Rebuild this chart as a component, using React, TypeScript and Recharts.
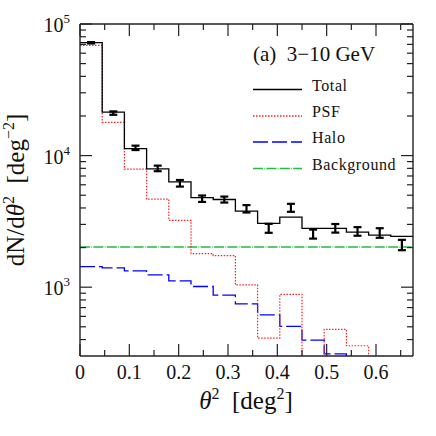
import React from "react"
import {
  ComposedChart,
  Line,
  Scatter,
  ErrorBar,
  XAxis,
  YAxis,
  ReferenceLine,
} from "recharts"

// bin edges in theta^2 (deg^2)
const binEdges = [
  0, 0.045, 0.09, 0.135, 0.18, 0.225, 0.27, 0.315, 0.36, 0.405, 0.45, 0.495,
  0.54, 0.585, 0.63, 0.675,
]

// model components per bin (last values below 300 run off the plot)
const totalModel = [
  72200, 21400, 11300, 7930, 6320, 4790, 4640, 3780, 3050, 3410, 2800, 2800,
  2620, 2490, 2430,
]
const psfModel = [
  68900, 17900, 7900, 4670, 3220, 1800, 1740, 1040, 410, 881, 150, 478, 359,
  150, 150,
]
const haloModel = [
  1435, 1400, 1330, 1240, 1117, 1012, 869, 748, 617, 504, 396, 311, 240, 190,
  150,
]
const background = 2020

// measured points with errors
const measured = [
  72000, 21050, 11460, 8000, 6170, 4710, 4640, 3950, 2810, 4020, 2540, 2810,
  2660, 2590, 2100,
]
const measuredErr = [
  880, 624, 440, 390, 355, 263, 243, 255, 220, 280, 200, 211, 200, 217, 190,
]

const xTicks = [
  0, 0.05, 0.1, 0.15, 0.2, 0.25, 0.3, 0.35, 0.4, 0.45, 0.5, 0.55, 0.6, 0.65,
]
const yMajor = [1000, 10000, 100000]
const yMinor = [
  400, 500, 600, 700, 800, 900, 2000, 3000, 4000, 5000, 6000, 7000, 8000, 9000,
  20000, 30000, 40000, 50000, 60000, 70000, 80000, 90000,
]
const yTicks = [...yMinor, ...yMajor].sort((a, b) => a - b)

const legendItems = [
  { label: "Total", color: "#000", dash: undefined },
  { label: "PSF", color: "#ff2020", dash: "1.5 1.5" },
  { label: "Halo", color: "#0000ff", dash: "15 4" },
  { label: "Background", color: "#22bb44", dash: "10 1.3 0.8 1.3" },
]

const histData = binEdges.map((x, i) => {
  const j = Math.min(i, totalModel.length - 1)
  return { x, total: totalModel[j], psf: psfModel[j], halo: haloModel[j] }
})

const pointData = measured.map((y, i) => ({
  x: (binEdges[i] + binEdges[i + 1]) / 2,
  y,
  err: measuredErr[i],
}))

const FONT = "'Liberation Serif', 'DejaVu Serif', serif"
const AXIS = "#222"

const isMajorX = (v: number) => Math.abs(v * 10 - Math.round(v * 10)) < 1e-6

function BottomTick(props: any) {
  const { x, y, payload } = props
  const major = isMajorX(payload.value)
  return (
    <g>
      <line x1={x} x2={x} y1={y} y2={y - (major ? 12 : 6)} stroke={AXIS} strokeWidth={1.2} />
      {major && (
        <text x={x} y={y + 23} textAnchor="middle" fontFamily={FONT} fontSize={20} fill="#111">
          {payload.value === 0 ? "0" : payload.value.toFixed(1)}
        </text>
      )}
    </g>
  )
}

function TopTick(props: any) {
  const { x, y, payload } = props
  const major = isMajorX(payload.value)
  return <line x1={x} x2={x} y1={y} y2={y + (major ? 12 : 6)} stroke={AXIS} strokeWidth={1.2} />
}

function LeftTick(props: any) {
  const { x, y, payload } = props
  const major = yMajor.includes(payload.value)
  return (
    <g>
      <line x1={x} x2={x + (major ? 12 : 6)} y1={y} y2={y} stroke={AXIS} strokeWidth={1.2} />
      {major && (
        <text x={x - 10} y={y + 8} textAnchor="end" fontFamily={FONT} fontSize={20} fill="#111">
          10
          <tspan dy={-9} fontSize={13}>
            {Math.round(Math.log10(payload.value))}
          </tspan>
        </text>
      )}
    </g>
  )
}

function RightTick(props: any) {
  const { x, y, payload } = props
  const major = yMajor.includes(payload.value)
  return <line x1={x} x2={x - (major ? 12 : 6)} y1={y} y2={y} stroke={AXIS} strokeWidth={1.2} />
}

function Overlay() {
  return (
    <svg
      width={436}
      height={436}
      style={{ position: "absolute", left: 0, top: 0, pointerEvents: "none" }}
    >
      <text x={253} y={61} fontFamily={FONT} fontSize={21} fill="#111" style={{ whiteSpace: "pre" }}>
        (a)  3−10 GeV
      </text>
      {legendItems.map((it, i) => {
        const ly = [89.5, 116, 142, 168.5][i]
        return (
          <g key={it.label}>
            <line x1={253} x2={302} y1={ly} y2={ly} stroke={it.color} strokeWidth={1.3} strokeDasharray={it.dash} />
            <text x={312} y={ly + 1} fontFamily={FONT} fontSize={16} fill="#111" letterSpacing={0.6}>
              {it.label}
            </text>
          </g>
        )
      })}
      <text x={246} y={409} textAnchor="middle" fontFamily={FONT} fontSize={25} fill="#111" style={{ whiteSpace: "pre" }}>
        <tspan fontStyle="italic">θ</tspan>
        <tspan dy={-10} fontSize={16}>2</tspan>
        <tspan dy={10}>  [deg</tspan>
        <tspan dy={-10} fontSize={16}>2</tspan>
        <tspan dy={10}>]</tspan>
      </text>
      <text
        x={0}
        y={0}
        transform="translate(24 190) rotate(-90)"
        textAnchor="middle"
        fontFamily={FONT}
        fontSize={25}
        fill="#111"
        style={{ whiteSpace: "pre" }}
      >
        dN/d
        <tspan fontStyle="italic">θ</tspan>
        <tspan dy={-10} fontSize={16}>2</tspan>
        <tspan dy={10}>  [deg</tspan>
        <tspan dy={-10} fontSize={16}>−2</tspan>
        <tspan dy={10}>]</tspan>
      </text>
    </svg>
  )
}

export default function App() {
  return (
    <div style={{ position: "absolute", left: 0, top: 0, width: 436, height: 436, background: "#fff" }}>
      <ComposedChart width={436} height={436} data={histData} margin={{ top: 0, right: 0, bottom: 0, left: 0 }}>
        <XAxis
          xAxisId="bottom"
          dataKey="x"
          type="number"
          domain={[0, 0.675]}
          ticks={xTicks}
          interval={0}
          height={80}
          tickSize={0}
          tickMargin={0}
          tickLine={false}
          tick={(p: any) => <BottomTick {...p} />}
          axisLine={{ stroke: AXIS, strokeWidth: 1.4 }}
          allowDataOverflow
        />
        <XAxis
          xAxisId="top"
          orientation="top"
          dataKey="x"
          type="number"
          domain={[0, 0.675]}
          ticks={xTicks}
          interval={0}
          height={24}
          tickSize={0}
          tickMargin={0}
          tickLine={false}
          tick={(p: any) => <TopTick {...p} />}
          axisLine={{ stroke: AXIS, strokeWidth: 1.4 }}
          allowDataOverflow
        />
        <YAxis
          yAxisId="left"
          type="number"
          scale="log"
          domain={[300, 100000]}
          ticks={yTicks}
          interval={0}
          width={80}
          tickSize={0}
          tickMargin={0}
          tickLine={false}
          tick={(p: any) => <LeftTick {...p} />}
          axisLine={{ stroke: AXIS, strokeWidth: 1.4 }}
          allowDataOverflow
        />
        <YAxis
          yAxisId="right"
          orientation="right"
          type="number"
          scale="log"
          domain={[300, 100000]}
          ticks={yTicks}
          interval={0}
          width={23}
          tickSize={0}
          tickMargin={0}
          tickLine={false}
          tick={(p: any) => <RightTick {...p} />}
          axisLine={{ stroke: AXIS, strokeWidth: 1.4 }}
          allowDataOverflow
        />
        <ReferenceLine
          xAxisId="bottom"
          yAxisId="left"
          y={background}
          stroke="#22bb44"
          strokeWidth={1.3}
          strokeDasharray="10 1.3 0.8 1.3"
        />
        <Line
          xAxisId="bottom"
          yAxisId="left"
          type="stepAfter"
          dataKey="halo"
          stroke="#0000ff"
          strokeWidth={1.3}
          strokeDasharray="15 4"
          dot={false}
          isAnimationActive={false}
        />
        <Line
          xAxisId="bottom"
          yAxisId="left"
          type="stepAfter"
          dataKey="psf"
          stroke="#ff2020"
          strokeWidth={1.2}
          strokeDasharray="1.5 1.5"
          dot={false}
          isAnimationActive={false}
        />
        <Line
          xAxisId="bottom"
          yAxisId="left"
          type="stepAfter"
          dataKey="total"
          stroke="#000"
          strokeWidth={1.3}
          dot={false}
          isAnimationActive={false}
        />
        <Scatter
          xAxisId="bottom"
          yAxisId="left"
          data={pointData}
          dataKey="y"
          shape={() => <g />}
          isAnimationActive={false}
        >
          <ErrorBar dataKey="err" direction="y" width={4} stroke="#000" strokeWidth={2.2} isAnimationActive={false} />
        </Scatter>
      </ComposedChart>
      <Overlay />
    </div>
  )
}
